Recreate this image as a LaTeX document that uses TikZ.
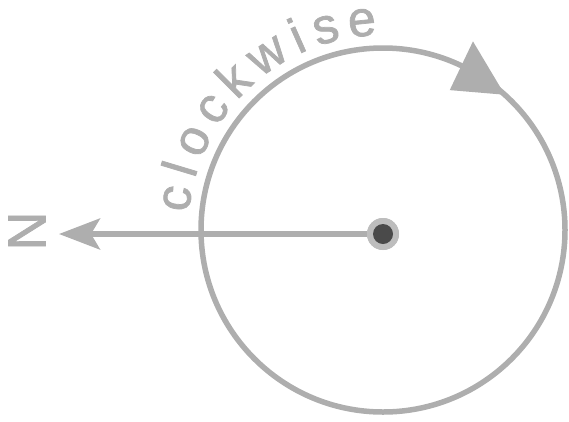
\documentclass[tikz,border=0pt]{standalone}
\usepackage{fontspec}
\setmainfont{Liberation Sans}[BoldFont=Liberation Sans,BoldFeatures={FakeBold=1.5}]
\usetikzlibrary{arrows.meta}
\definecolor{ink}{HTML}{AEAEAE}
\definecolor{ringgray}{HTML}{BDBDBD}
\definecolor{dotdark}{HTML}{4A4A4A}
\begin{document}
\begin{tikzpicture}[x=1pt,y=-1pt,
  line/.style={draw=ink,line width=5.5pt},
  letter/.style={text=ink,font=\fontsize{50}{50}\selectfont\bfseries,anchor=base,inner sep=0pt}]
\useasboundingbox (0,0) rectangle (569,421);
\coordinate (c) at (383,230);
% circle with mid arrowhead
\draw[line] (c) circle[radius=182];
\fill[ink,shift={(c)}] (-48:182) -- (-64.5:209) -- (-64.5:155) -- cycle;
% text along the arc
\foreach \ch/\a [count=\i] in {c/188.7, l/196.8, o/205.2, c/215.4, k/225.2, w/236.5, i/246.0, s/254.1, e/264.2}
  \path[shift={(c)}] (\a:195) node[letter,rotate={-\a-90}] (t\i) {\ch};
% north arrow
\coordinate (tip) at (59,234);
\node[circle,fill=ringgray,minimum size=32pt,inner sep=0pt] (hub) at (383,234) {};
\draw[line,-{Stealth[length=41pt,width=31pt,inset=9pt]}] (hub.west) -- (tip);
\node[circle,fill=ringgray,minimum size=32pt,inner sep=0pt] at (hub) {};
\node[circle,fill=dotdark,minimum size=20pt,inner sep=0pt] (hubc) at (hub) {};
\node[text=ink,font=\fontsize{54}{54}\selectfont\bfseries,rotate=90,inner sep=0pt] (n) at (27,231) {N};
\end{tikzpicture}
\end{document}
